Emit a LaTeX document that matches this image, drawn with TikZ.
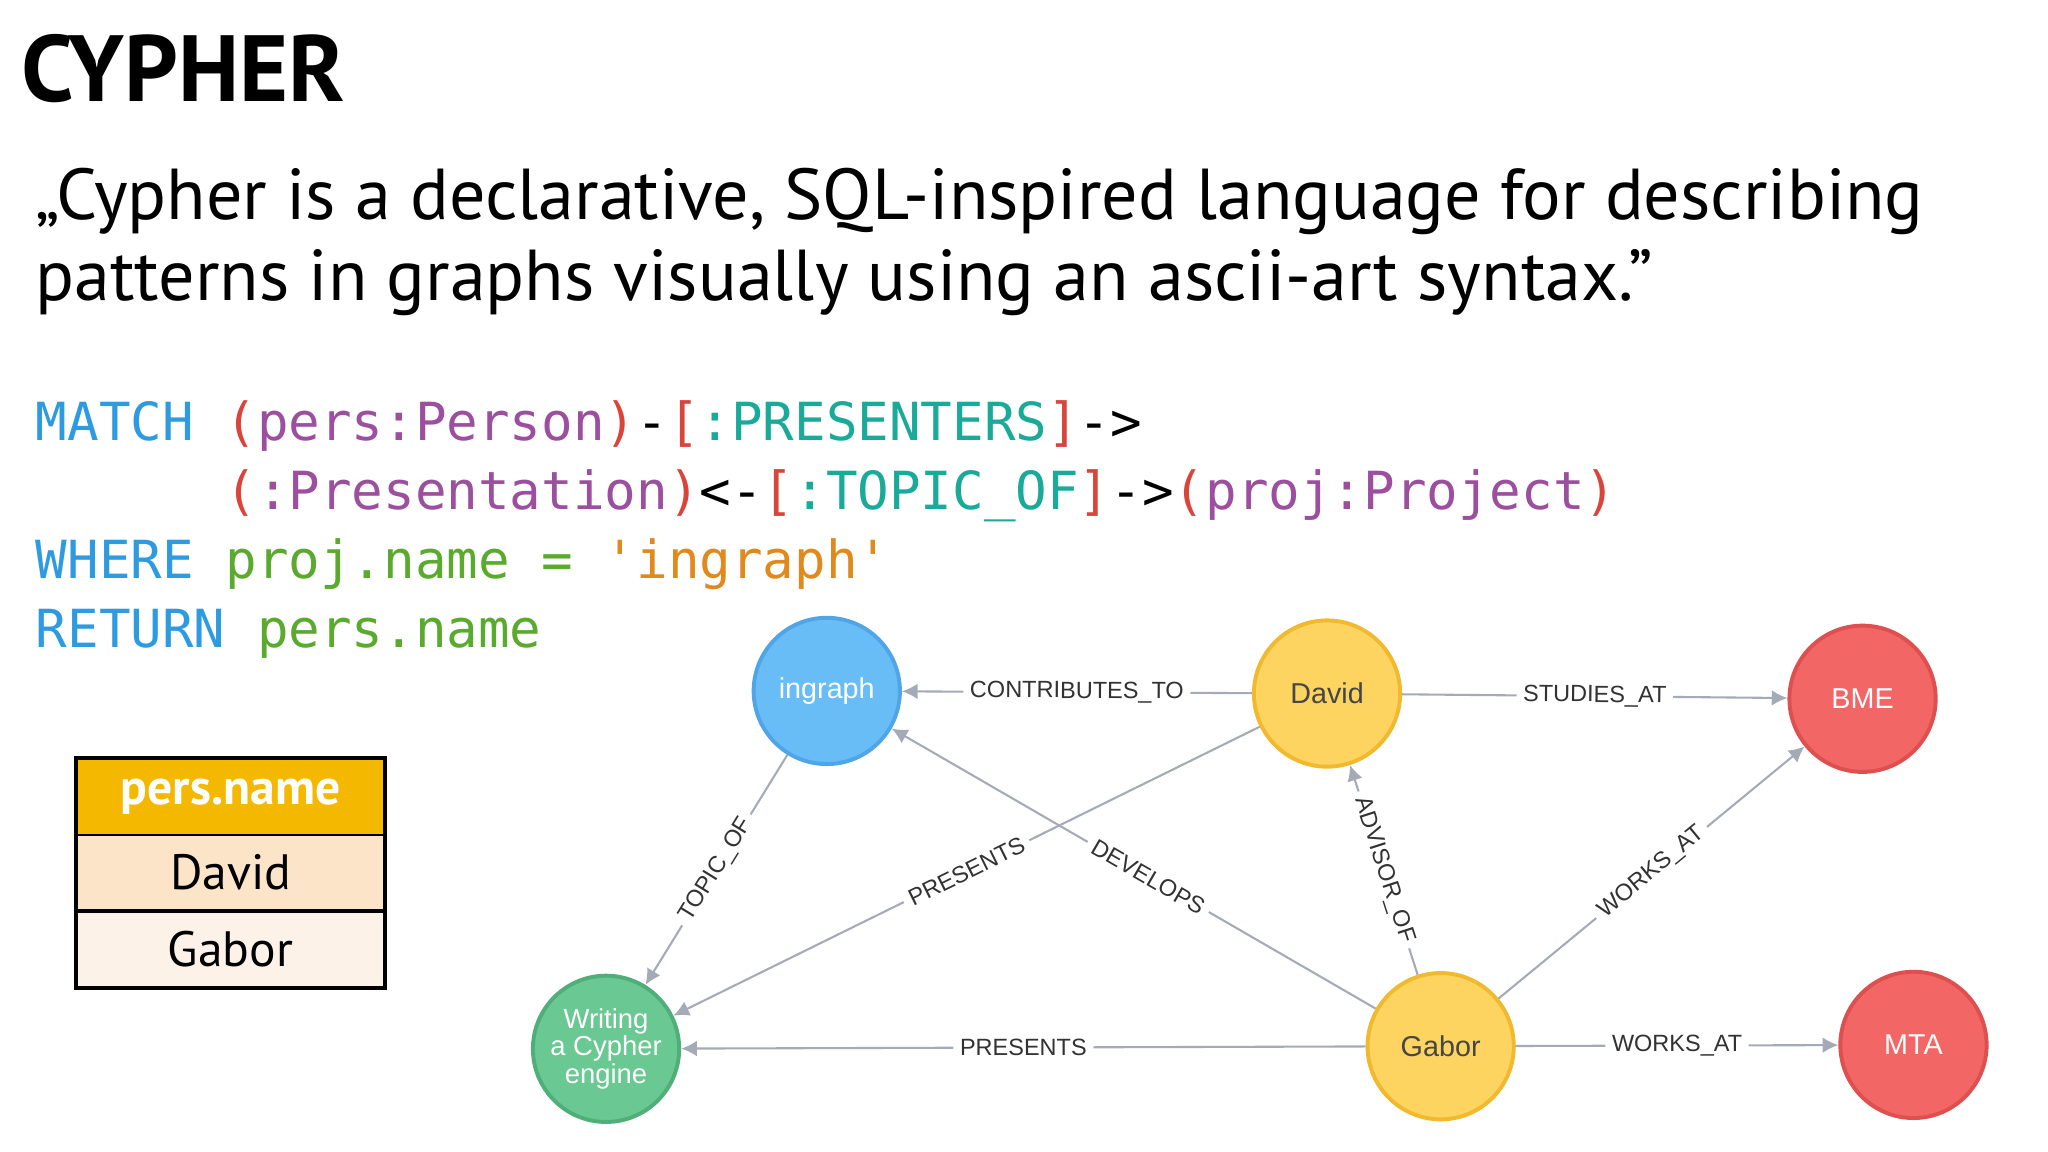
\documentclass[tikz,border=0pt]{standalone}
\usepackage{fontspec}
\setmainfont{PT Sans}
\newfontfamily\codefont{DejaVu Sans Mono}
\newfontfamily\graphfont{Liberation Sans}
\definecolor{kw}{HTML}{2E9BE0}
\definecolor{pr}{HTML}{D9453A}
\definecolor{pu}{HTML}{9B4F9E}
\definecolor{te}{HTML}{1AAA9A}
\definecolor{gr}{HTML}{5AAA2E}
\definecolor{orc}{HTML}{E08A1E}
\definecolor{edge}{HTML}{A5ABB6}
\tikzset{
 gnode/.style={circle,minimum size=112pt*0.5,line width=1.5pt,font=\graphfont\fontsize{11}{12}\selectfont,text=white,align=center,inner sep=0pt},
 blue/.style={gnode,fill={rgb,255:red,104;green,189;blue,246},draw={rgb,255:red,80;green,165;blue,230}},
 yel/.style={gnode,fill={rgb,255:red,252;green,212;blue,95},draw={rgb,255:red,240;green,185;blue,46},text={rgb,255:red,70;green,70;blue,70}},
 red/.style={gnode,fill={rgb,255:red,242;green,102;blue,102},draw={rgb,255:red,222;green,80;blue,80}},
 grn/.style={gnode,fill={rgb,255:red,106;green,200;blue,146},draw={rgb,255:red,80;green,175;blue,120}},
 rel/.style={draw=edge,line width=0.8pt,-{Latex[length=6pt,width=6pt]}},
 lab/.style={midway,sloped,fill=white,inner sep=2.5pt,font=\graphfont\fontsize{9}{9}\selectfont,text={rgb,255:red,50;green,50;blue,50}},
 code/.style={anchor=base west,inner sep=0pt,font=\codefont\fontsize{20.1}{22}\selectfont},
 cell/.style={draw=black,line width=0.8pt,minimum width=117.5pt,minimum height=29pt,inner sep=0pt,font=\fontsize{19}{20}\selectfont}
}
\usetikzlibrary{arrows.meta}
\begin{document}
\begin{tikzpicture}[x=0.5pt,y=-0.5pt]
\useasboundingbox (0,0) rectangle (1568,882);
\node[anchor=base west,inner sep=0pt,font=\bfseries\fontsize{36}{38}\selectfont] (title) at (16,78) {CYPHER};
\node[anchor=base west,inner sep=0pt,font=\fontsize{27.6}{32}\selectfont,align=left] (q1) at (27,168) {„Cypher is a declarative, SQL-inspired language for describing};
\node[anchor=base west,inner sep=0pt,font=\fontsize{27.6}{32}\selectfont,align=left] (q2) at (27,230) {patterns in graphs visually using an ascii-art syntax.”};
\node[code] (c1) at (27,337) {\textcolor{kw}{MATCH} \textcolor{pr}{(}\textcolor{pu}{pers:Person}\textcolor{pr}{)}-\textcolor{pr}{[}\textcolor{te}{:PRESENTERS}\textcolor{pr}{]}->};
\node[code] (c2) at (27,390) {\phantom{MATCH} \textcolor{pr}{(}\textcolor{pu}{:Presentation}\textcolor{pr}{)}<-\textcolor{pr}{[}\textcolor{te}{:TOPIC\_OF}\textcolor{pr}{]}->\textcolor{pr}{(}\textcolor{pu}{proj:Project}\textcolor{pr}{)}};
\node[code] (c3) at (27,443) {\textcolor{kw}{WHERE} \textcolor{gr}{proj.name =} \textcolor{orc}{'ingraph'}};
\node[code] (c4) at (27,496) {\textcolor{kw}{RETURN} \textcolor{gr}{pers.name}};
% table
\node[cell,fill={rgb,255:red,245;green,184;blue,0},text=white,font=\bfseries\fontsize{19}{20}\selectfont] (th) at (176.5,610) {pers.name};
\node[cell,fill={rgb,255:red,252;green,228;blue,200}] (t1) at (176.5,668) {David};
\node[cell,fill={rgb,255:red,253;green,242;blue,232}] (t2) at (176.5,727) {Gabor};
\draw[line width=1.2pt] (th.north west) rectangle (t2.south east);
% graph
\node[blue] (ing) at (633,529) {ingraph};
\node[yel] (dav) at (1016,531) {David};
\node[red] (bme) at (1426,535) {BME};
\node[grn,font=\graphfont\fontsize{10.5}{10.5}\selectfont] (wri) at (464,803) {Writing\\a Cypher\\engine};
\node[yel] (gab) at (1103,801) {Gabor};
\node[red] (mta) at (1465,800) {MTA};
\draw[rel] (dav) -- node[lab]{CONTRIBUTES\_TO} (ing);
\draw[rel] (dav) -- node[lab]{STUDIES\_AT} (bme);
\draw[rel] (ing) -- node[lab]{TOPIC\_OF} (wri);
\draw[rel] (dav) -- node[lab,pos=0.5]{PRESENTS} (wri);
\draw[rel] (gab) -- node[lab,pos=0.47]{DEVELOPS} (ing);
\draw[rel] (gab) -- node[lab]{ADVISOR\_OF} (dav);
\draw[rel] (gab) -- node[lab]{WORKS\_AT} (bme);
\draw[rel] (gab) -- node[lab]{PRESENTS} (wri);
\draw[rel] (gab) -- node[lab]{WORKS\_AT} (mta);
\end{tikzpicture}
\end{document}
